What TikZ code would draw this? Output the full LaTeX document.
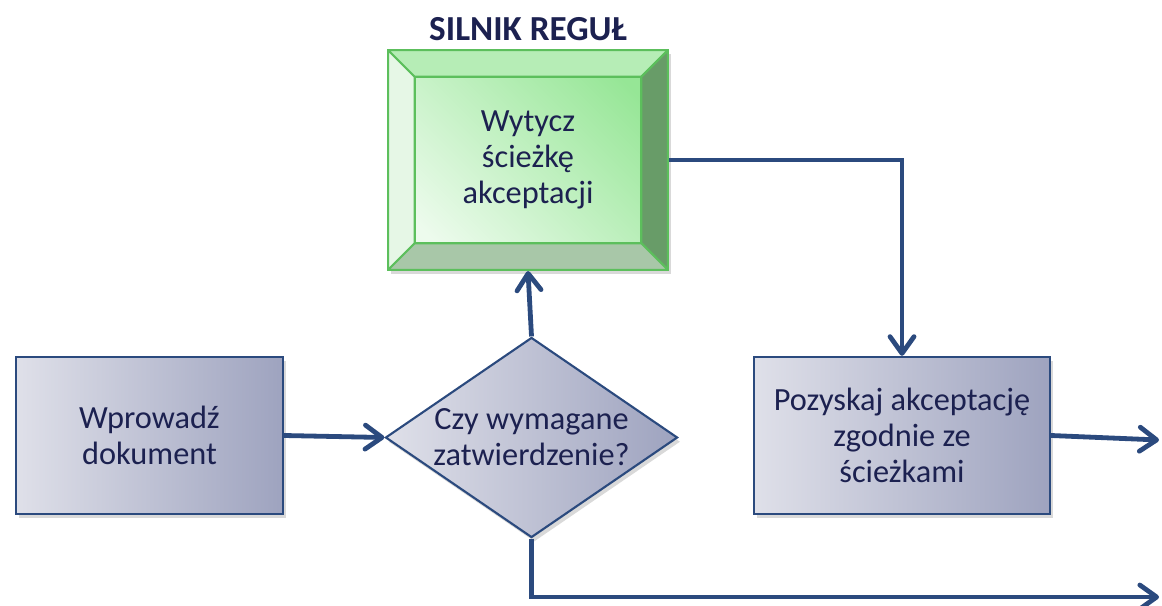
\documentclass[tikz,border=0pt]{standalone}
\usepackage{fontspec}
\setmainfont{Carlito}
\usetikzlibrary{shapes.geometric,positioning,arrows.meta,shadows}

\definecolor{navy}{HTML}{1C2150}
\definecolor{linkblue}{HTML}{2B4A7E}
\definecolor{boxlight}{HTML}{DFE0E9}
\definecolor{boxdark}{HTML}{9EA3BF}
\definecolor{greenedge}{HTML}{5CBF5C}
\definecolor{greenlight}{HTML}{EDFBED}
\definecolor{greendark}{HTML}{96E696}
\definecolor{facetleft}{HTML}{E6F7E6}
\definecolor{facettop}{HTML}{B6EDB6}
\definecolor{facetright}{HTML}{689C68}
\definecolor{facetbottom}{HTML}{A8C7A8}

\pgfdeclarehorizontalshading{greenface}{100bp}{color(0bp)=(greenlight); color(25bp)=(greenlight); color(75bp)=(greendark); color(100bp)=(greendark)}

\tikzset{
  txt/.style={text=navy, align=center, font=\fontsize{23}{25.5}\selectfont},
  shadowed/.style={drop shadow={shadow xshift=2pt, shadow yshift=-3pt, opacity=0.3}},
  stepbox/.style={txt, shadowed, draw=linkblue, line width=1.5pt, left color=boxlight, right color=boxdark},
  decisionbox/.style={txt, shadowed, diamond, draw=linkblue, line width=1.5pt, left color=boxlight, right color=boxdark, aspect=1.46, inner sep=-3pt},
  link/.style={draw=linkblue, line width=0.12cm, -{Straight Barb[length=0.42cm,width=0.6cm,line width=3.4pt,round]}},
  bevel/.style={txt, shadowed, draw=greenedge, line width=1.5pt, shading=greenface, shading angle=45,
    minimum width=7cm, minimum height=5.5cm,
    path picture={
      \coordinate (bnw) at (path picture bounding box.north west);
      \coordinate (bne) at (path picture bounding box.north east);
      \coordinate (bsw) at (path picture bounding box.south west);
      \coordinate (bse) at (path picture bounding box.south east);
      \begin{scope}[draw=greenedge, line width=1.5pt]
      \filldraw[fill=facetleft] (bnw) -- (bsw) -- ([shift={(0.67cm,0.67cm)}]bsw) -- ([shift={(0.67cm,-0.67cm)}]bnw) -- cycle;
      \filldraw[fill=facettop] (bnw) -- (bne) -- ([shift={(-0.67cm,-0.67cm)}]bne) -- ([shift={(0.67cm,-0.67cm)}]bnw) -- cycle;
      \filldraw[fill=facetright] (bne) -- (bse) -- ([shift={(-0.67cm,0.67cm)}]bse) -- ([shift={(-0.67cm,-0.67cm)}]bne) -- cycle;
      \filldraw[fill=facetbottom] (bsw) -- (bse) -- ([shift={(-0.67cm,0.67cm)}]bse) -- ([shift={(0.67cm,0.67cm)}]bsw) -- cycle;
      \end{scope}
    }},
  title/.style={text=navy, font=\fontsize{25}{28}\selectfont\bfseries}
}

\begin{document}
\begin{tikzpicture}[x=0.025cm, y=-0.025cm]

\useasboundingbox (0,0) rectangle (1162,605);

\node[stepbox, minimum width=6.68cm, minimum height=3.93cm] (doc) at (149.5,435.5) {Wprowadź\\dokument};
\node[decisionbox, minimum width=7.3cm, minimum height=5cm] (decision) at (531.5,437.5) {Czy wymagane\\zatwierdzenie?};
\node[bevel] (rules) at (528,160) {Wytycz\\ścieżkę\\akceptacji};
\node[title, above=0.08cm of rules] (rulestitle) {SILNIK REGUŁ};
\node[stepbox, minimum width=7.4cm, minimum height=3.93cm] (approve) at (902,435.5) {Pozyskaj akceptację\\zgodnie ze\\ścieżkami};

\coordinate (outA) at (1159,440);
\coordinate (outB) at (1159,597);

% connectors
\draw[link] (doc.east) -- (decision.west);
\draw[link] (decision.north) -- (rules.south);
\draw[link] (rules.east) -| (approve.north);
\draw[link] (approve.east) -- (outA);
\draw[link] (decision.south) |- (outB);

\end{tikzpicture}
\end{document}
